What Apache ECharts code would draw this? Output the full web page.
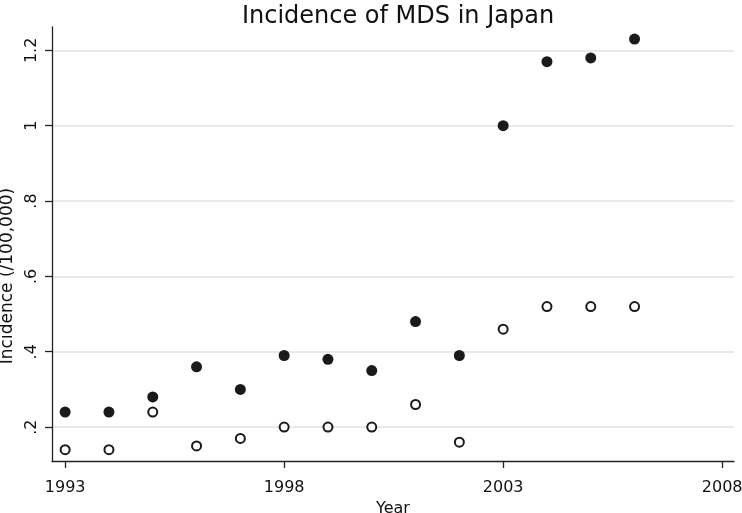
<!DOCTYPE html>
<html>
<head>
<meta charset="utf-8">
<script src="https://cdn.jsdelivr.net/npm/echarts@6/dist/echarts.min.js"></script>
<style>html,body{margin:0;padding:0;background:#fff}#c{width:742px;height:513px}</style>
</head>
<body>
<div id="c"></div>
<script>
var years = [1993,1994,1995,1996,1997,1998,1999,2000,2001,2002,2003,2004,2005,2006];
var filledValues = [0.24,0.24,0.28,0.36,0.30,0.39,0.38,0.35,0.48,0.39,1.00,1.17,1.18,1.23];
var hollowValues = [0.14,0.14,0.24,0.15,0.17,0.20,0.20,0.20,0.26,0.16,0.46,0.52,0.52,0.52];
var xTickValues = [1993,1998,2003,2008];
var yTickValues = [0.2,0.4,0.6,0.8,1.0,1.2];
var yTickLabels = ['.2','.4','.6','.8','1','1.2'];

function pairs(xs, ys){ return xs.map(function(x,i){ return [x, ys[i]]; }); }

var chart = echarts.init(document.getElementById('c'), null, {renderer:'canvas'});
var font = 'DejaVu Sans';
chart.setOption({
  animation:false,
  backgroundColor:'#fff',
  title:{
    text:'Incidence of MDS in Japan',
    left:393, textAlign:'center', top:0,
    textStyle:{fontFamily:font, fontSize:24, fontWeight:'normal', color:'#111'}
  },
  grid:{left:52, right:8, top:27, bottom:52, containLabel:false, outerBoundsMode:'none'},
  xAxis:{
    type:'value', min:1992.7, max:2008.27,
    name:'Year', nameLocation:'middle', nameGap:38,
    nameTextStyle:{fontFamily:font, fontSize:16, color:'#111'},
    axisLine:{show:true, onZero:false, lineStyle:{color:'#222', width:1.3}},
    axisTick:{show:true, length:7, customValues:xTickValues, lineStyle:{color:'#222', width:1.3}},
    axisLabel:{customValues:xTickValues, fontFamily:font, fontSize:16, color:'#111', margin:19,
      formatter:function(v){ return String(v); }},
    splitLine:{show:false}
  },
  yAxis:{
    type:'value', min:0.11, max:1.262,
    name:'Incidence (/100,000)', nameLocation:'middle', nameGap:30, nameRotate:90,
    nameTextStyle:{fontFamily:font, fontSize:17, color:'#111', padding:[0,64,0,0]},
    axisLine:{show:true, onZero:false, lineStyle:{color:'#222', width:1.3}},
    axisTick:{show:true, length:7, customValues:yTickValues, lineStyle:{color:'#222', width:1.3}},
    axisLabel:{customValues:yTickValues, rotate:90, fontFamily:font, fontSize:16, color:'#111', margin:12,
      formatter:function(v){ var i = yTickValues.findIndex(function(t){return Math.abs(t-v)<1e-9;}); return i>=0 ? yTickLabels[i] : ''; }},
    splitLine:{show:true, lineStyle:{color:'#e2e2e2', width:1.5}}
  },
  series:[
    {type:'scatter', name:'filled', data:pairs(years, filledValues), symbol:'circle', symbolSize:11,
      itemStyle:{color:'#1a1a1a', opacity:1}},
    {type:'scatter', name:'hollow', data:pairs(years, hollowValues), symbol:'circle', symbolSize:9,
      itemStyle:{color:'#fff', borderColor:'#1a1a1a', borderWidth:2, opacity:1}}
  ]
});
</script>
</body>
</html>
